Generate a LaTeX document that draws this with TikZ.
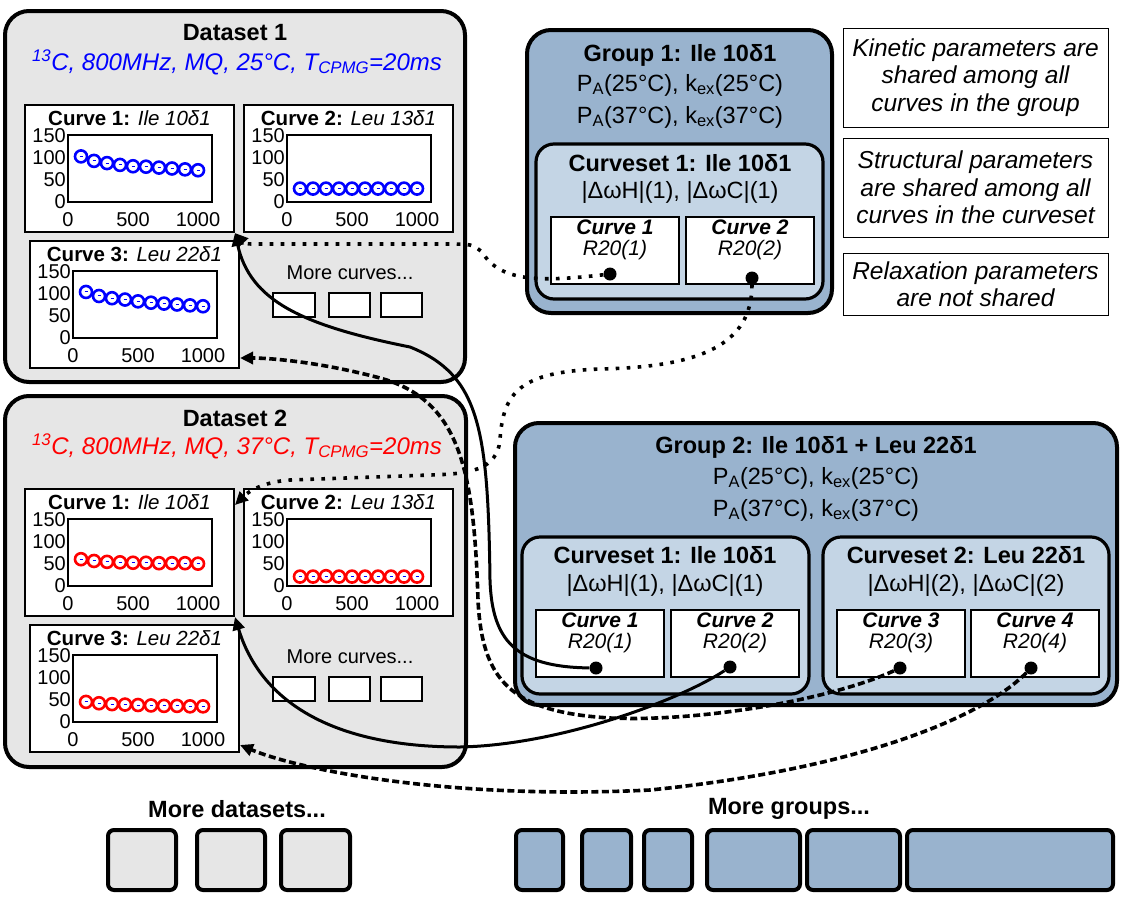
\documentclass[tikz,border=0pt]{standalone}
\usepackage{fontspec}
\setmainfont{Liberation Sans}
\usetikzlibrary{calc,arrows.meta}

\definecolor{dsgray}{RGB}{230,230,230}
\definecolor{grpblue}{RGB}{153,179,206}
\definecolor{csblue}{RGB}{196,213,229}
\definecolor{ptblue}{RGB}{0,0,255}
\definecolor{ptred}{RGB}{255,0,0}

\tikzset{
  dsbox/.style={fill=dsgray, line width=4pt, rounded corners=24pt},
  grpbox/.style={fill=grpblue, line width=4pt, rounded corners=24pt},
  csbox/.style={fill=csblue, line width=3.2pt, rounded corners=18pt},
  panel/.style={draw, fill=white, line width=2pt, anchor=north west, inner sep=0pt, minimum width=209pt, minimum height=127pt},
  cbox/.style={draw, fill=white, line width=2pt, anchor=north west, inner sep=0pt, minimum width=128pt, minimum height=67pt},
  notebox/.style={draw, fill=white, line width=0.8pt, inner sep=0pt, align=center, font=\fontsize{24.5}{27.5}\selectfont\itshape},
  smallbox/.style={fill=white, line width=1.8pt},
  moreds/.style={fill=dsgray, line width=4pt, rounded corners=6pt},
  moregrp/.style={fill=grpblue, line width=4pt, rounded corners=6pt},
  bigtitle/.style={font=\fontsize{23.5}{26}\selectfont\bfseries, inner sep=0pt},
  subtitle/.style={font=\fontsize{24}{26}\selectfont\itshape, inner sep=0pt},
  partext/.style={font=\fontsize{23.5}{26}\selectfont, inner sep=0pt},
  paneltitle/.style={font=\fontsize{20.5}{22}\selectfont, inner sep=0pt},
  tick/.style={font=\fontsize{20}{22}\selectfont, inner sep=0pt},
  boxtext/.style={font=\fontsize{21}{23}\selectfont\itshape, inner sep=0pt},
  moretext/.style={font=\fontsize{20}{22}\selectfont, inner sep=0pt},
  axesbox/.style={line width=2.4pt},
  dotmark/.style={circle, fill=black, inner sep=0pt, minimum size=13pt},
  solidlink/.style={line width=3pt, -{Triangle[length=13pt,width=12pt]}},
  dotlink/.style={line width=3.6pt, dash pattern=on 3.6pt off 7.4pt, -{Triangle[length=13pt,width=12pt]}},
  dashlink/.style={line width=3.6pt, dash pattern=on 7pt off 3.5pt, -{Triangle[length=13pt,width=12pt]}}
}

% one small plot of a dispersion curve
\newcommand{\curvepanel}[5]{%
  \node[panel] (#1) at (#2) {};
  \node[paneltitle] at ([yshift=-14pt]#1.north) {#3};
  \draw[axesbox] ([shift={(44pt,-31pt)}]#1.north west) rectangle ([shift={(188pt,-98pt)}]#1.north west);
  \foreach \lab/\yy in {150/32,100/54,50/76,0/98}
    \node[tick,anchor=east] at ([shift={(42pt,-\yy pt)}]#1.north west) {\lab};
  \foreach \lab/\xx in {0/44,500/109,1000/174}
    \node[tick] at ([shift={(\xx pt,-116pt)}]#1.north west) {\lab};
  \foreach \v [count=\i] in {#5} {
    \coordinate (p) at ([shift={(44pt+13pt*\i,-98pt+0.447pt*\v)}]#1.north west);
    \draw[#4,line width=2.6pt] (p) circle (6pt);
    \draw[ptblue,line width=1pt] ([xshift=-1.5pt]p) -- ([xshift=1.5pt]p);
  }
}

% one curve inside a curveset
\newcommand{\curvebox}[3]{%
  \node[cbox] (#1) at (#2) {};
  \node[boxtext] at ([yshift=-11pt]#1.north) {\textbf{Curve #3}};
  \node[boxtext] at ([yshift=-34pt]#1.north) {R20(#3)};
}

\begin{document}
\begin{tikzpicture}[x=1pt,y=-1pt]
		%%%%% START %%%%%
		\fill[white] (0,0) rectangle (1125,900);
		\useasboundingbox (0,0) rectangle (1125,900);
		
		% dataset 1
		\draw[dsbox] (5,11) rectangle (465,382);
		\node[bigtitle] (ds1) at (235,33) {Dataset 1};
		\node[subtitle, text=ptblue] at (237,62) {\textsuperscript{13}C, 800MHz, MQ, 25°C, T\textsubscript{CPMG}=20ms};
		\curvepanel{d1c1}{24,104}{\textbf{Curve 1:} \textit{Ile 10δ1}}{ptblue}{102,92,87,83,80,79,77,75,73,71}
		\curvepanel{d1c2}{243,104}{\textbf{Curve 2:} \textit{Leu 13δ1}}{ptblue}{30,30,30,30,30,30,30,30,30,30}
		\curvepanel{d1c3}{29,240}{\textbf{Curve 3:} \textit{Leu 22δ1}}{ptblue}{103,94,89,86,82,79,77,75,73,71}
		\node[moretext] at (350,273) {More curves...};
		\foreach \a/\b in {273/315,329/370,381/422}
			\draw[smallbox] (\a,293) rectangle (\b,317);
		
		% dataset 2
		\draw[dsbox] (5,396) rectangle (466,767);
		\node[bigtitle] (ds2) at (235,418) {Dataset 2};
		\node[subtitle, text=ptred] at (237,446) {\textsuperscript{13}C, 800MHz, MQ, 37°C, T\textsubscript{CPMG}=20ms};
		\curvepanel{d2c1}{24,488}{\textbf{Curve 1:} \textit{Ile 10δ1}}{ptred}{60,56,54,53,52,52,51,51,51,50}
		\curvepanel{d2c2}{243,488}{\textbf{Curve 2:} \textit{Leu 13δ1}}{ptred}{21,21,22,21,21,21,21,21,21,21}
		\curvepanel{d2c3}{29,624}{\textbf{Curve 3:} \textit{Leu 22δ1}}{ptred}{45,42,40,39,38,37,36,36,35,35}
		\node[moretext] at (350,657) {More curves...};
		\foreach \a/\b in {273/315,329/370,381/422}
			\draw[smallbox] (\a,677) rectangle (\b,701);
		
		% group 1
		\draw[grpbox] (527,30) rectangle (832,313);
		\node[bigtitle] (g1) at (680,55) {Group 1: Ile 10δ1};
		\node[partext] at (680,85) {P\textsubscript{A}(25°C), k\textsubscript{ex}(25°C)};
		\node[partext] at (680,117) {P\textsubscript{A}(37°C), k\textsubscript{ex}(37°C)};
		\draw[csbox] (536,144) rectangle (823,299);
		\node[bigtitle] at (680,163) {Curveset 1: Ile 10δ1};
		\node[partext] at (680,192) {|ΔωH|(1), |ΔωC|(1)};
		\curvebox{g1c1}{550,216}{1}
		\curvebox{g1c2}{685,216}{2}
		\node[dotmark] (g1d1) at ([shift={(60pt,11pt)}]g1c1.south west) {};
		\node[dotmark] (g1d2) at ([shift={(67pt,7pt)}]g1c2.south west) {};
		
		% notes
		\node[notebox, minimum width=265pt, minimum height=99pt] (kin) at (975.5,77.5) {Kinetic parameters are\\shared among all\\curves in the group};
		\node[notebox, minimum width=265pt, minimum height=99pt] (str) at (975.5,187.5) {Structural parameters\\are shared among all\\curves in the curveset};
		\node[notebox, minimum width=265pt, minimum height=62pt] (rel) at (975.5,284) {Relaxation parameters\\are not shared};
		
		% group 2
		\draw[grpbox] (515,423) rectangle (1117,705);
		\node[bigtitle] (g2) at (816,447) {Group 2: Ile 10δ1 + Leu 22δ1};
		\node[partext] at (816,478) {P\textsubscript{A}(25°C), k\textsubscript{ex}(25°C)};
		\node[partext] at (816,510) {P\textsubscript{A}(37°C), k\textsubscript{ex}(37°C)};
		\draw[csbox] (522,537) rectangle (809,694);
		\draw[csbox] (823,537) rectangle (1109,694);
		\node[bigtitle] at (665,555) {Curveset 1: Ile 10δ1};
		\node[partext] at (665,585) {|ΔωH|(1), |ΔωC|(1)};
		\node[bigtitle] at (966,555) {Curveset 2: Leu 22δ1};
		\node[partext] at (966,585) {|ΔωH|(2), |ΔωC|(2)};
		\curvebox{g2c1}{535,609}{1}
		\curvebox{g2c2}{670,609}{2}
		\curvebox{g2c3}{836,609}{3}
		\curvebox{g2c4}{970,609}{4}
		\node[dotmark] (g2d1) at ([shift={(61pt,10pt)}]g2c1.south west) {};
		\node[dotmark] (g2d2) at ([shift={(60pt,11pt)}]g2c2.south west) {};
		\node[dotmark] (g2d3) at ([shift={(64pt,10pt)}]g2c3.south west) {};
		\node[dotmark] (g2d4) at ([shift={(61pt,10pt)}]g2c4.south west) {};
		
		% links from the curves of a group to the data
		\draw[dotlink] (g1d1) .. controls (540,282) and (500,282) .. (482,252)
			.. controls (472,244) .. (445,244) -- (260,244)
			.. controls (245,244) .. (d1c1.south east);
		\draw[dotlink] (g1d2) .. controls (752,345) and (700,367) .. (600,369)
			.. controls (520,372) and (503,392) .. (500,440)
			.. controls (497,470) and (470,474) .. (430,475) -- (290,480)
			.. controls (262,482) and (248,492) .. ([yshift=-17pt]d2c1.north east);
		\draw[solidlink] (g2d1) .. controls (515,667) and (492,640) .. (490,580)
			.. controls (488,430) and (480,375) .. (410,347)
			.. controls (300,325) and (250,300) .. (d1c1.south east);
		\draw[solidlink] (g2d2) .. controls (680,700) and (560,745) .. (460,747)
			.. controls (330,747) and (260,700) .. (d2c1.south east);
		\draw[dashlink] (g2d3) .. controls (830,700) and (700,722) .. (610,718)
			.. controls (510,712) and (482,680) .. (478,600)
			.. controls (474,470) and (460,400) .. (380,378)
			.. controls (320,362) and (270,358) .. ([yshift=11pt]d1c3.south east);
		\draw[dashlink] (g2d4) .. controls (980,720) and (850,770) .. (650,790)
			.. controls (450,800) and (300,770) .. ([yshift=8pt]d2c3.south east);
		
		% more datasets, more groups
		\node[bigtitle] (mds) at (237,809) {More datasets...};
		\foreach \a/\b in {108/176,197/265,281/350}
			\draw[moreds] (\a,830) rectangle (\b,890);
		\node[bigtitle] (mgr) at (789,809) {More groups...};
		\foreach \a/\b in {516/563,582/631,644/692,707/800,807/900,907/1113}
			\draw[moregrp] (\a,830) rectangle (\b,890);
		%%%%% END %%%%%
	\end{tikzpicture}
\end{document}
